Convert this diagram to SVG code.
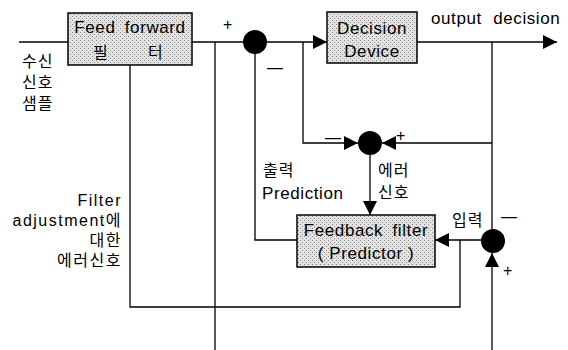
<svg xmlns="http://www.w3.org/2000/svg" width="568" height="350" viewBox="0 0 568 350">
<defs>
<pattern id="stip" width="4" height="4" patternUnits="userSpaceOnUse">
<rect width="4" height="4" fill="#e2e2e2"/>
<rect x="0" y="0" width="1" height="1" fill="#888"/>
<rect x="2" y="2" width="1" height="1" fill="#999"/>
</pattern>
<marker id="arrB" viewBox="0 0 14 14" refX="14" refY="7" markerWidth="14" markerHeight="14" markerUnits="userSpaceOnUse" orient="auto">
<path d="M0,0 L14,7 L0,14 Z" fill="#000"/>
</marker>
</defs>
<style>
.box{fill:url(#stip);stroke:#000;stroke-width:1.5}
.ln{fill:none;stroke:#000;stroke-width:1.3}
.t{font-family:"Liberation Sans","Noto Sans CJK KR",sans-serif;font-size:17px;letter-spacing:0.6px;fill:#000}
.k{font-family:"Noto Sans CJK KR","Liberation Sans",sans-serif;font-size:16px;letter-spacing:1px;fill:#000}
.kl{font-family:"Liberation Sans","Noto Sans CJK KR",sans-serif;font-size:16px;letter-spacing:1px;fill:#000}
.f{font-family:"Liberation Sans","Noto Sans CJK KR",sans-serif;font-size:16px;letter-spacing:1.5px;fill:#000}
.sg{font-family:"Liberation Sans",sans-serif;font-size:16px;fill:#000}
</style>
<rect width="568" height="350" fill="#fff"/>
<g id="connectors">
<path class="ln" d="M19,42 H68"/>
<path class="ln" d="M192,42 H243"/>
<path class="ln" d="M215,42 V350"/>
<path class="ln" d="M130,65 V307 H460 V240"/>
<path class="ln" d="M255,54 V240 H297"/>
<path class="ln" d="M267,42 H327" marker-end="url(#arrB)"/>
<path class="ln" d="M303,42 V143 H358" marker-end="url(#arrB)"/>
<path class="ln" d="M417,42 H557" marker-end="url(#arrB)"/>
<path class="ln" d="M492,42 V229"/>
<path class="ln" d="M492,143 H382" marker-end="url(#arrB)"/>
<path class="ln" d="M370,155 V215" marker-end="url(#arrB)"/>
<path class="ln" d="M481,240 H435" marker-end="url(#arrB)"/>
<path class="ln" d="M492,350 V253" marker-end="url(#arrB)"/>
</g>
<g id="sum1"><circle cx="255" cy="42" r="12" fill="#000"/>
<text class="sg" x="223" y="30">+</text><text class="sg" x="267" y="73">—</text></g>
<g id="sum2"><circle cx="370" cy="143" r="12" fill="#000"/>
<text class="sg" x="325" y="143">—</text><text class="sg" x="396" y="141">+</text></g>
<g id="sum3"><circle cx="493" cy="241" r="12" fill="#000"/>
<text class="sg" x="501" y="222">—</text><text class="sg" x="503" y="276">+</text></g>
<g id="ff"><rect class="box" x="68" y="13" width="124" height="52"/>
<text class="t" x="130" y="33" text-anchor="middle" word-spacing="4">Feed forward</text>
<text class="k" x="93" y="58">필</text>
<text class="k" x="148" y="58">터</text></g>
<g id="dd"><rect class="box" x="327" y="12" width="90" height="51"/>
<text class="t" x="372" y="34" text-anchor="middle">Decision</text>
<text class="t" x="372" y="57" text-anchor="middle">Device</text></g>
<g id="fb"><rect class="box" x="297" y="215" width="138" height="52"/>
<text class="t" x="366" y="236" text-anchor="middle" word-spacing="4">Feedback filter</text>
<text class="t" x="366" y="259" text-anchor="middle" xml:space="preserve">( Predictor )</text></g>
<g id="labels">
<text class="kl" x="22" y="67">수신</text>
<text class="kl" x="22" y="88">신호</text>
<text class="kl" x="22" y="109">샘플</text>
<text class="t" x="431" y="24" word-spacing="6">output decision</text>
<text class="k" x="263" y="176">출력</text>
<text class="t" x="262" y="199">Prediction</text>
<text class="k" x="378" y="176">에러</text>
<text class="k" x="378" y="198">신호</text>
<text class="k" x="452" y="226">입력</text>
<text class="f" x="122" y="206" text-anchor="end">Filter</text>
<text class="f" x="122" y="226" text-anchor="end">adjustment에</text>
<text class="f" x="122" y="246" text-anchor="end">대한</text>
<text class="f" x="122" y="266" text-anchor="end">에러신호</text>
</g>
</svg>
